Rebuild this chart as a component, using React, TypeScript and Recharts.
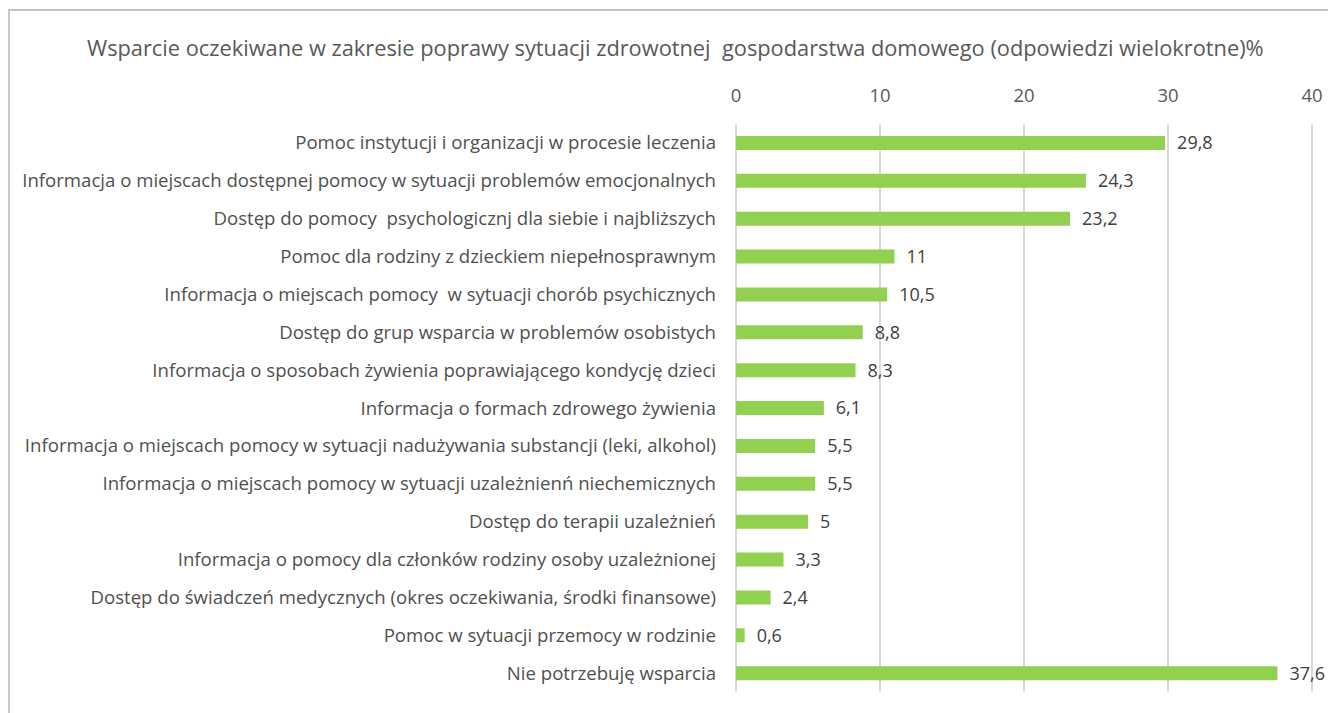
import { BarChart, Bar, XAxis, YAxis, CartesianGrid, LabelList } from 'recharts';

const title =
  'Wsparcie oczekiwane w zakresie poprawy sytuacji zdrowotnej  gospodarstwa domowego (odpowiedzi wielokrotne)%';

const categories = [
  'Pomoc instytucji i organizacji w procesie leczenia',
  'Informacja o miejscach dostępnej pomocy w sytuacji problemów emocjonalnych',
  'Dostęp do pomocy  psychologicznj dla siebie i najbliższych',
  'Pomoc dla rodziny z dzieckiem niepełnosprawnym',
  'Informacja o miejscach pomocy  w sytuacji chorób psychicznych',
  'Dostęp do grup wsparcia w problemów osobistych',
  'Informacja o sposobach żywienia poprawiającego kondycję dzieci',
  'Informacja o formach zdrowego żywienia',
  'Informacja o miejscach pomocy w sytuacji nadużywania substancji (leki, alkohol)',
  'Informacja o miejscach pomocy w sytuacji uzależnienń niechemicznych',
  'Dostęp do terapii uzależnień',
  'Informacja o pomocy dla członków rodziny osoby uzależnionej',
  'Dostęp do świadczeń medycznych (okres oczekiwania, środki finansowe)',
  'Pomoc w sytuacji przemocy w rodzinie',
  'Nie potrzebuję wsparcia',
];

const values = [29.8, 24.3, 23.2, 11, 10.5, 8.8, 8.3, 6.1, 5.5, 5.5, 5, 3.3, 2.4, 0.6, 37.6];

const xTicks = [0, 10, 20, 30, 40];

const data = categories.map((name, i) => ({ name, value: values[i] }));

const FONT = '"Open Sans", "Noto Sans", sans-serif';

function CategoryTick({ x, y, payload }: any) {
  return (
    <text
      x={x}
      y={y}
      dy={6.5}
      textAnchor="end"
      fill="#505050"
      fontSize={18.6}
      fontFamily={FONT}
      style={{ whiteSpace: 'pre' }}
    >
      {payload.value}
    </text>
  );
}

export default function App() {
  return (
    <div
      style={{
        position: 'fixed',
        left: 0,
        top: 0,
        width: 1328,
        height: 713,
        overflow: 'hidden',
        background: '#fff',
      }}
    >
      {/* chart frame, cut at the right and bottom of the page */}
      <div
        style={{
          position: 'absolute',
          left: 8,
          top: 9,
          width: 1330,
          height: 720,
          borderTop: '2px solid #c4c4c4',
          borderLeft: '2px solid #c8c8c8',
        }}
      >
        <div
          style={{
            position: 'absolute',
            left: 77,
            top: 22,
            fontFamily: FONT,
            fontSize: 21.8,
            color: '#595959',
            whiteSpace: 'pre',
          }}
        >
          {title}
        </div>
        <BarChart
          width={1318}
          height={702}
          data={data}
          layout="vertical"
          margin={{ top: 83, right: 16, bottom: 21, left: 0 }}
        >
          <CartesianGrid horizontal={false} stroke="#d9d9d9" strokeWidth={2} />
          <XAxis
            type="number"
            orientation="top"
            domain={[0, 40]}
            ticks={xTicks}
            axisLine={false}
            tickLine={false}
            tickSize={0}
            tickMargin={22}
            height={30}
            tick={{ fontSize: 18.5, fill: '#595959', fontFamily: FONT }}
          />
          <YAxis
            type="category"
            dataKey="name"
            width={726}
            axisLine={false}
            tickLine={false}
            tickSize={0}
            tickMargin={20}
            interval={0}
            tick={<CategoryTick />}
          />
          <Bar dataKey="value" fill="#92d050" barSize={14} isAnimationActive={false}>
            <LabelList
              dataKey="value"
              position="right"
              offset={12}
              fill="#404040"
              fontSize={18}
              fontFamily={FONT}
              formatter={(v: any) => String(v).replace('.', ',')}
            />
          </Bar>
        </BarChart>
      </div>
    </div>
  );
}
